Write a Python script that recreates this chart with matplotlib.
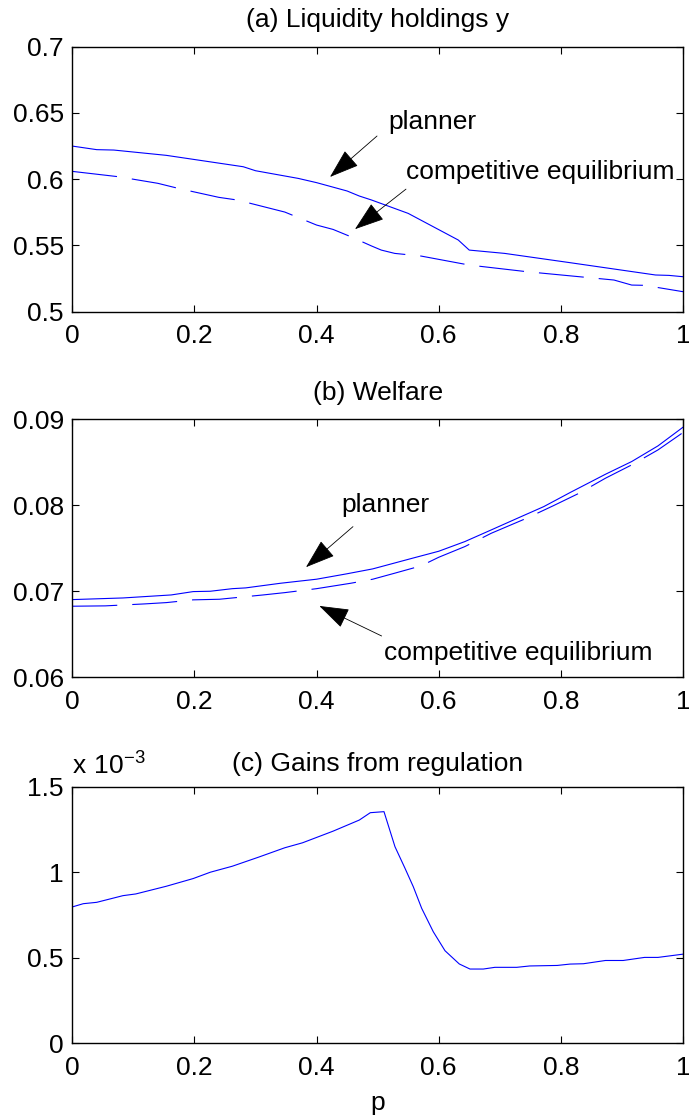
import matplotlib
matplotlib.use("Agg")
import matplotlib.pyplot as plt
from matplotlib.ticker import FixedLocator, FuncFormatter

plt.rcParams['font.family'] = ['Liberation Sans', 'DejaVu Sans']
plt.rcParams['mathtext.fontset'] = 'custom'
plt.rcParams['mathtext.rm'] = 'Liberation Sans'
plt.rcParams['axes.unicode_minus'] = False
plt.rcParams['lines.scale_dashes'] = False

# ---------------- data ----------------
# (a) Liquidity holdings y
p_a_planner = [0, 0.04, 0.068, 0.154, 0.28, 0.30, 0.37, 0.40, 0.45, 0.47, 0.49,
               0.55, 0.632, 0.65, 0.708, 0.815, 0.955, 0.977, 1.0]
y_planner = [0.625, 0.6223, 0.622, 0.618, 0.6094, 0.6064, 0.6006, 0.5974, 0.5911,
             0.5873, 0.5843, 0.5742, 0.5541, 0.5465, 0.544, 0.537, 0.5277, 0.5274, 0.5264]
p_a_ce = [0, 0.075, 0.14, 0.176, 0.24, 0.27, 0.348, 0.40, 0.427, 0.456, 0.49, 0.506,
          0.528, 0.571, 0.65, 0.744, 0.887, 0.916, 0.937, 1.0]
y_ce = [0.6059, 0.6019, 0.5969, 0.5928, 0.5863, 0.5843, 0.5752, 0.5654, 0.5621, 0.5566,
        0.5496, 0.5465, 0.544, 0.542, 0.5352, 0.5302, 0.5239, 0.5201, 0.5199, 0.5151]

# (b) Welfare
p_b_planner = [0, 0.083, 0.119, 0.162, 0.198, 0.226, 0.262, 0.284, 0.341, 0.40, 0.449,
               0.492, 0.557, 0.60, 0.643, 0.686, 0.729, 0.772, 0.815, 0.873, 0.916, 0.959, 1.0]
w_planner = [0.06903, 0.06922, 0.06938, 0.06957, 0.06996, 0.0700, 0.0703, 0.07039, 0.07093,
             0.0714, 0.07202, 0.0726, 0.07384, 0.07465, 0.07578, 0.07713, 0.07849, 0.07984,
             0.08147, 0.0836, 0.08508, 0.0869, 0.08907]
p_b_ce = [0, 0.054, 0.119, 0.154, 0.198, 0.241, 0.3125, 0.348, 0.40, 0.456, 0.492, 0.528,
          0.571, 0.60, 0.643, 0.686, 0.744, 0.787, 0.83, 0.873, 0.916, 0.959, 1.0]
w_ce = [0.06826, 0.0683, 0.06853, 0.06868, 0.069, 0.06907, 0.06957, 0.06984, 0.0703, 0.07093,
        0.0714, 0.0721, 0.07295, 0.07395, 0.0752, 0.07674, 0.07849, 0.07992, 0.0814, 0.08314,
        0.08469, 0.08643, 0.08845]

# (c) Gains from regulation (in units of 1e-3)
p_c = [0, 0.018, 0.04, 0.083, 0.104, 0.154, 0.198, 0.226, 0.262, 0.305, 0.348, 0.377,
       0.427, 0.47, 0.488, 0.5104, 0.5284, 0.5448, 0.5584, 0.5721, 0.5911, 0.6103, 0.6337,
       0.6512, 0.673, 0.692, 0.7277, 0.749, 0.794, 0.815, 0.837, 0.873, 0.902, 0.937,
       0.959, 1.0]
gains_e3 = [0.797, 0.816, 0.824, 0.863, 0.873, 0.918, 0.963, 1.0, 1.035, 1.088, 1.143, 1.172,
            1.24, 1.305, 1.348, 1.354, 1.149, 1.023, 0.915, 0.789, 0.652, 0.541, 0.4636,
            0.434, 0.434, 0.444, 0.444, 0.452, 0.455, 0.463, 0.465, 0.484, 0.484, 0.502,
            0.502, 0.521]

x_ticks = [0, 0.2, 0.4, 0.6, 0.8, 1]
yticks_a = [0.5, 0.55, 0.6, 0.65, 0.7]
yticks_b = [0.06, 0.07, 0.08, 0.09]
yticks_c = [0, 0.5, 1, 1.5]

titles = ['(a) Liquidity holdings y', '(b) Welfare', '(c) Gains from regulation']

# ---------------- figure ----------------
FS = 19
fig = plt.figure(figsize=(6.89, 11.2), dpi=100)
L, W = 0.1049, 0.8864
ax_a = fig.add_axes([L, 0.7217, W, 0.2366])
ax_b = fig.add_axes([L, 0.3953, W, 0.2304])
ax_c = fig.add_axes([L, 0.0685, W, 0.2291])

fmt = FuncFormatter(lambda v, pos: f'{v:g}')
blue = (0, 0, 1)
lw = 0.8
dash = (0, (32.4, 10.8))

def style(ax, yticks, ylim):
    ax.set_xlim(0, 1)
    ax.set_ylim(*ylim)
    ax.xaxis.set_major_locator(FixedLocator(x_ticks))
    ax.yaxis.set_major_locator(FixedLocator(yticks))
    ax.xaxis.set_major_formatter(fmt)
    ax.yaxis.set_major_formatter(fmt)
    ax.tick_params(direction='in', length=5, width=0.8, top=True, right=True,
                   labelsize=FS, colors='black')
    ax.tick_params(axis='x', pad=9)
    ax.tick_params(axis='y', pad=6)
    for s in ax.spines.values():
        s.set_linewidth(1.0)
        s.set_color('black')

arrow_kw = dict(arrowstyle='-|>,head_length=1.9,head_width=0.65', color='black',
                lw=0.6, shrinkA=0, shrinkB=0, mutation_scale=10)

# (a)
ax_a.plot(p_a_planner, y_planner, color=blue, lw=lw)
ax_a.plot(p_a_ce, y_ce, color=blue, lw=lw, linestyle=dash)
style(ax_a, yticks_a, (0.5, 0.7))
ax_a.set_title(titles[0], fontsize=FS, pad=14.2)
ax_a.text(0.517, 0.643, 'planner', fontsize=FS, va='center', ha='left')
ax_a.annotate('', xy=(0.422, 0.6017), xytext=(0.499, 0.6326), arrowprops=arrow_kw)
ax_a.text(0.5464, 0.6054, 'competitive equilibrium', fontsize=FS, va='center', ha='left')
ax_a.annotate('', xy=(0.4629, 0.5623), xytext=(0.5464, 0.5925), arrowprops=arrow_kw)

# (b)
ax_b.plot(p_b_planner, w_planner, color=blue, lw=lw)
ax_b.plot(p_b_ce, w_ce, color=blue, lw=lw, linestyle=dash)
style(ax_b, yticks_b, (0.06, 0.09))
ax_b.set_title(titles[1], fontsize=FS, pad=14)
ax_b.text(0.440, 0.0800, 'planner', fontsize=FS, va='center', ha='left')
ax_b.annotate('', xy=(0.3827, 0.0728), xytext=(0.4596, 0.07751), arrowprops=arrow_kw)
ax_b.text(0.510, 0.06283, 'competitive equilibrium', fontsize=FS, va='center', ha='left')
ax_b.annotate('', xy=(0.4045, 0.06829), xytext=(0.5065, 0.06480), arrowprops=arrow_kw)

# (c)
ax_c.plot(p_c, gains_e3, color=blue, lw=lw)
style(ax_c, yticks_c, (0, 1.5))
ax_c.set_title(titles[2], fontsize=FS, pad=11)
ax_c.annotate(r'$\mathregular{x\ 10^{-3}}$', xy=(0, 1), xycoords='axes fraction',
              xytext=(0, 9), textcoords='offset points', ha='left', va='baseline',
              fontsize=FS)
ax_c.set_xlabel('p', fontsize=FS, labelpad=8)

fig.savefig('out.png', dpi=100)
